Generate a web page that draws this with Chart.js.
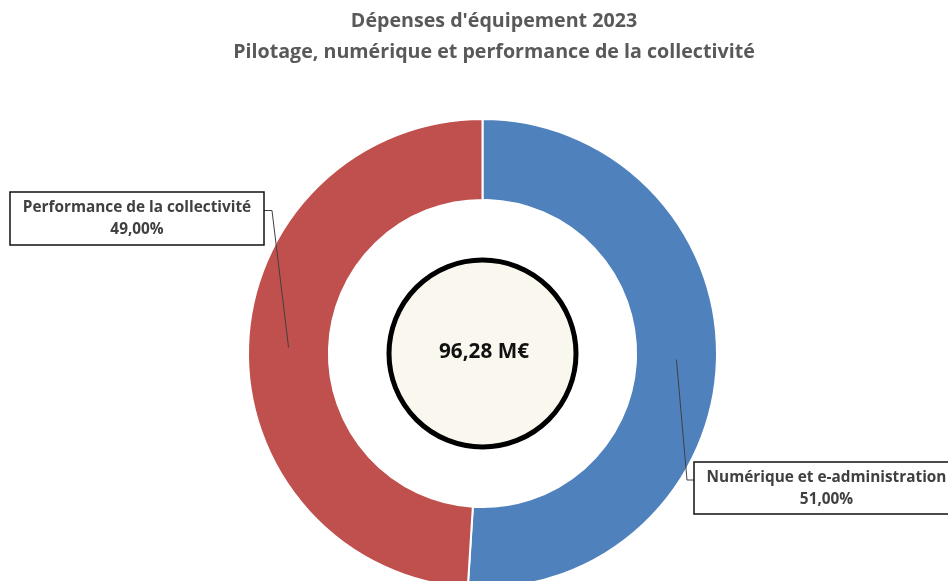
<!DOCTYPE html>
<html lang="fr">
<head>
<meta charset="utf-8">
<script src="https://cdn.jsdelivr.net/npm/chart.js@4.4.1/dist/chart.umd.min.js"></script>
<style>
  html, body { margin: 0; padding: 0; background: #fff; }
  #wrap { width: 948px; height: 581px; overflow: hidden; }
</style>
</head>
<body>
<div id="wrap"><canvas id="myChart" width="948" height="600"></canvas></div>
<script>
const titleLines = ["Dépenses d'équipement 2023", 'Pilotage, numérique et performance de la collectivité'];
const categories = ['Numérique et e-administration', 'Performance de la collectivité'];
const shares = [51, 49];
const sliceColors = ['#4F81BD', '#C0504D'];
const totalLabel = '96,28 M€';

const FONT = '"Open Sans", "Liberation Sans", sans-serif';

// callout boxes, same order as categories
const callouts = [
    { x: 694, y: 462, w: 265, h: 52, cx: 826.5, elbow: 687 },
    { x: 10, y: 192, w: 254, h: 53, cx: 137, elbow: 272 }
];

// font size that makes `text` span `width` pixels
function fitSize(ctx, text, width) {
    ctx.font = 'bold 40px ' + FONT;
    return 40 * width / ctx.measureText(text).width;
}

function pct(v) {
    return v.toFixed(2).replace('.', ',') + '%';
}

const overlay = {
    id: 'overlay',
    afterDraw(chart) {
        const ctx = chart.ctx;
        const arcs = chart.getDatasetMeta(0).data;
        const cx = arcs[0].x, cy = arcs[0].y;
        ctx.save();

        // title
        const ts = fitSize(ctx, titleLines[1], 522);
        ctx.font = 'bold ' + ts + 'px ' + FONT;
        ctx.fillStyle = '#595959';
        ctx.textAlign = 'center';
        ctx.textBaseline = 'middle';
        ctx.fillText(titleLines[0], 494, 21);
        ctx.fillText(titleLines[1], 494, 52);

        // total in the middle
        ctx.beginPath();
        ctx.arc(cx, cy, 93.5, 0, Math.PI * 2);
        ctx.fillStyle = '#FAF8EE';
        ctx.fill();
        ctx.lineWidth = 5;
        ctx.strokeStyle = '#000';
        ctx.stroke();
        const cs = fitSize(ctx, totalLabel, 90);
        ctx.font = 'bold ' + cs + 'px ' + FONT;
        ctx.fillStyle = '#111';
        ctx.fillText(totalLabel, cx + 1.5, cy - 1);

        // callouts with leader lines
        const ls = fitSize(ctx, categories[0], 240);
        arcs.forEach(function (arc, i) {
            const b = callouts[i];
            const p = arc.getCenterPoint();
            const side = b.x > cx ? b.x : b.x + b.w;
            const midY = b.y + b.h / 2 - 8;
            ctx.beginPath();
            ctx.moveTo(side, midY);
            ctx.lineTo(b.elbow, midY);
            ctx.lineTo(p.x, p.y);
            ctx.lineWidth = 1;
            ctx.strokeStyle = '#404040';
            ctx.stroke();

            ctx.fillStyle = '#fff';
            ctx.fillRect(b.x, b.y, b.w, b.h);
            ctx.lineWidth = 1.5;
            ctx.strokeStyle = '#111';
            ctx.strokeRect(b.x, b.y, b.w, b.h);

            ctx.font = 'bold ' + ls + 'px ' + FONT;
            ctx.fillStyle = '#404040';
            ctx.fillText(categories[i], b.cx, b.y + 16);
            ctx.fillText(pct(shares[i]), b.cx, b.y + 38);
        });

        ctx.restore();
    }
};

const canvas = document.getElementById('myChart');
new Chart(canvas.getContext('2d'), {
    type: 'doughnut',
    data: {
        labels: categories,
        datasets: [{
            data: shares,
            backgroundColor: sliceColors,
            borderColor: '#fff',
            borderWidth: 2
        }]
    },
    options: {
        responsive: false,
        animation: false,
        cutout: '65.5%',
        layout: { padding: { left: 247, right: 230, top: 118, bottom: 11 } },
        plugins: {
            legend: { display: false },
            tooltip: { enabled: false },
            title: { display: false }
        }
    },
    plugins: [overlay]
});
</script>
</body>
</html>
